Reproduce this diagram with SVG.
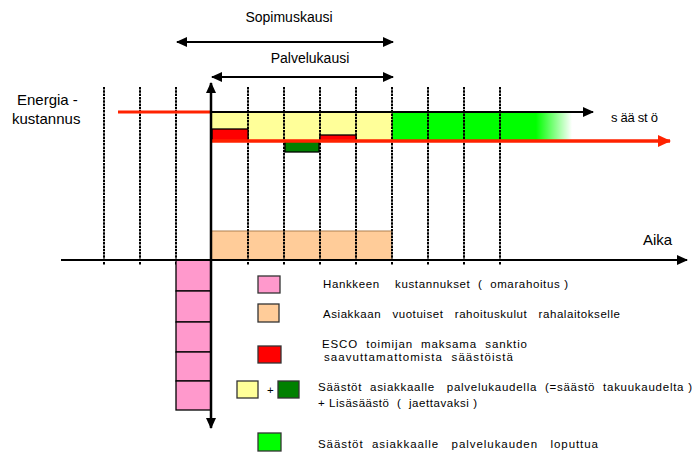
<svg xmlns="http://www.w3.org/2000/svg" width="697" height="456" viewBox="0 0 697 456">
<style>
text{font-family:"Liberation Sans",Arial,sans-serif;fill:#000;white-space:pre}
.t14{font-size:14px}
.t15{font-size:15px}
.lg{font-size:11.5px}
.grid{stroke:#000;stroke-width:2;stroke-dasharray:2.5 0.8}
.box{stroke:#000;stroke-width:1.3}
.leg{stroke:#333;stroke-width:1.3}
</style>
<defs>
<marker id="ah" markerUnits="userSpaceOnUse" markerWidth="12" markerHeight="10" refX="10" refY="5" orient="auto-start-reverse">
<path d="M0,0 L11,5 L0,10 Z" fill="#000"/>
</marker>
<marker id="ahr" markerUnits="userSpaceOnUse" markerWidth="14" markerHeight="12" refX="12" refY="6" orient="auto">
<path d="M0,0 L13,6 L0,12 Z" fill="#FF2200"/>
</marker>
<linearGradient id="fade" x1="392" y1="0" x2="572" y2="0" gradientUnits="userSpaceOnUse">
<stop offset="0" stop-color="#00FF00"/>
<stop offset="0.8" stop-color="#00FF00"/>
<stop offset="1" stop-color="#00FF00" stop-opacity="0"/>
</linearGradient>
</defs>

<g id="labels-top">
<text class="t14" x="289" y="22" text-anchor="middle">Sopimuskausi</text>
<text class="t14" x="310" y="63" text-anchor="middle" font-size="13.5">Palvelukausi</text>
<text class="t15" x="17" y="105">Energia -</text>
<text class="t15" x="12" y="124">kustannus</text>
<text x="611" y="122" font-size="13" textLength="47" lengthAdjust="spacing">s ää st ö</text>
<text class="t15" x="643" y="245">Aika</text>
</g>

<g id="fills">
<rect x="211" y="112" width="181" height="29" fill="#FFFF99"/>
<rect x="392" y="112" width="180" height="28" fill="url(#fade)"/>
<rect x="211" y="231" width="181" height="29" fill="#FFCC99"/>
<line x1="211" y1="231" x2="393" y2="231" stroke="#B08050" stroke-width="1.2"/>
</g>

<g id="grid">
<line class="grid" x1="104" y1="87" x2="104" y2="265"/>
<line class="grid" x1="140" y1="87" x2="140" y2="265"/>
<line class="grid" x1="176" y1="87" x2="176" y2="265"/>
<line class="grid" x1="248" y1="87" x2="248" y2="265"/>
<line class="grid" x1="284" y1="87" x2="284" y2="265"/>
<line class="grid" x1="320" y1="87" x2="320" y2="265"/>
<line class="grid" x1="356" y1="87" x2="356" y2="265"/>
<line class="grid" x1="392" y1="87" x2="392" y2="265"/>
<line class="grid" x1="428" y1="87" x2="428" y2="265"/>
<line class="grid" x1="464" y1="87" x2="464" y2="265"/>
<line class="grid" x1="500" y1="87" x2="500" y2="265"/>
</g>

<g id="bars">
<rect class="box" x="212" y="129" width="36" height="12" fill="#FF0000"/>
<rect class="box" x="285" y="141" width="34" height="11" fill="#008000"/>
<rect class="box" x="320" y="135" width="36" height="6" fill="#FF0000"/>
</g>

<g id="pink-column">
<rect class="box" x="176" y="260" width="35" height="31" fill="#FF99CC"/>
<rect class="box" x="176" y="291" width="35" height="31" fill="#FF99CC"/>
<rect class="box" x="176" y="322" width="35" height="30" fill="#FF99CC"/>
<rect class="box" x="176" y="352" width="35" height="29" fill="#FF99CC"/>
<rect class="box" x="176" y="381" width="35" height="29" fill="#FF99CC"/>
</g>

<g id="connectors">
<line x1="118" y1="112" x2="211" y2="112" stroke="#FF2200" stroke-width="3"/>
<line x1="211" y1="141" x2="670" y2="141" stroke="#FF2200" stroke-width="3.5" marker-end="url(#ahr)"/>
<line x1="211" y1="112" x2="593" y2="112" stroke="#000" stroke-width="2" marker-end="url(#ah)"/>
<line x1="61" y1="260" x2="687" y2="260" stroke="#000" stroke-width="2" marker-end="url(#ah)"/>
<line x1="211" y1="83" x2="211" y2="428" stroke="#000" stroke-width="2.5" marker-start="url(#ah)" marker-end="url(#ah)"/>
<line x1="177" y1="42" x2="393" y2="42" stroke="#000" stroke-width="2" marker-start="url(#ah)" marker-end="url(#ah)"/>
<line x1="212" y1="77" x2="393" y2="77" stroke="#000" stroke-width="2" marker-start="url(#ah)" marker-end="url(#ah)"/>
</g>

<g id="legend-1">
<rect class="leg" x="258" y="276" width="22" height="17" fill="#FF99CC"/>
<text class="lg" x="323" y="288" textLength="245" lengthAdjust="spacing">Hankkeen    kustannukset  (  omarahoitus )</text>
</g>
<g id="legend-2">
<rect class="leg" x="258" y="304" width="21" height="18" fill="#FFCC99"/>
<text class="lg" x="323" y="318" textLength="297" lengthAdjust="spacing">Asiakkaan   vuotuiset   rahoituskulut   rahalaitokselle</text>
</g>
<g id="legend-3">
<rect class="leg" x="258" y="346" width="23" height="17" fill="#FF0000"/>
<text class="lg" x="322" y="348" textLength="205" lengthAdjust="spacing">ESCO  toimijan  maksama  sanktio</text>
<text class="lg" x="324" y="361" textLength="189" lengthAdjust="spacing">saavuttamattomista  säästöistä</text>
</g>
<g id="legend-4">
<rect class="leg" x="237" y="381" width="21" height="17" fill="#FFFF99"/>
<text class="lg" x="267" y="394">+</text>
<rect class="leg" x="278" y="381" width="21" height="17" fill="#008000"/>
<text class="lg" x="318" y="391" textLength="374" lengthAdjust="spacing">Säästöt  asiakkaalle   palvelukaudella  (=säästö  takuukaudelta )</text>
<text class="lg" x="318" y="407" textLength="159" lengthAdjust="spacing">+ Lisäsäästö  (  jaettavaksi )</text>
</g>
<g id="legend-5">
<rect class="leg" x="258" y="433" width="23" height="18" fill="#00FF00"/>
<text class="lg" x="318" y="448" textLength="280" lengthAdjust="spacing">Säästöt  asiakkaalle   palvelukauden   loputtua</text>
</g>
</svg>
